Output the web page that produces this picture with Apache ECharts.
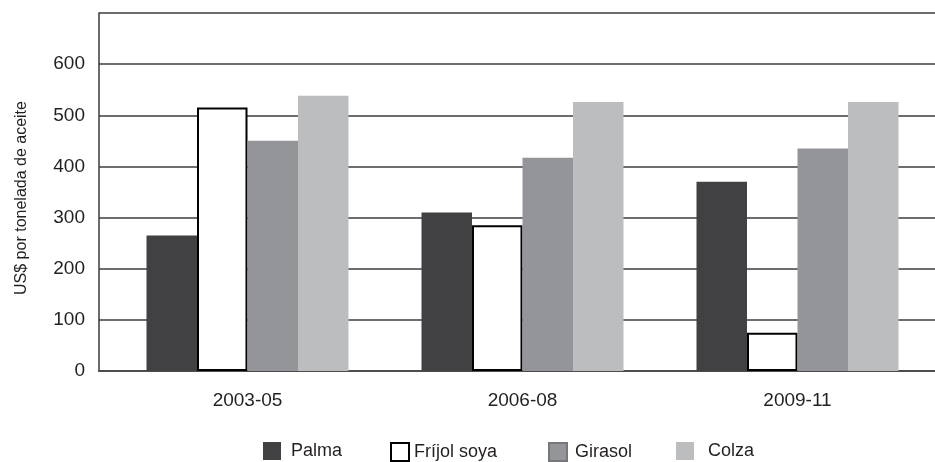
<!DOCTYPE html>
<html>
<head>
<meta charset="utf-8">
<script src="https://cdn.jsdelivr.net/npm/echarts@6/dist/echarts.min.js"></script>
<style>
  html, body { margin: 0; padding: 0; background: #fff; }
  #chart { width: 935px; height: 462px; }
</style>
</head>
<body>
<div id="chart"></div>
<script>
// Periodos y precios (US$ por tonelada de aceite)
const periods = ['2003-05', '2006-08', '2009-11'];
const palma = [265, 310, 370];
const frijolSoya = [515, 285, 75];
const girasol = [450, 417, 435];
const colza = [538, 526, 526];
const yTicks = [0, 100, 200, 300, 400, 500, 600, 700];

const FONT = '"Liberation Sans", Arial, sans-serif';
const TXT = '#231f20';

const chart = echarts.init(document.getElementById('chart'));

// una leyenda por serie para poder ubicar cada una como en el original
const legendItem = (name, left, padTop, padLeft, extra) => ({
  left, top: 442, padding: 0,
  itemWidth: 18, itemHeight: 18,
  icon: 'rect',
  data: [Object.assign({ name }, extra || {})],
  textStyle: { fontFamily: FONT, fontSize: 18, color: TXT, padding: [padTop, 0, 0, padLeft] },
});

chart.setOption({
  animation: false,
  legend: [
    legendItem('Palma', 263, 4, 5),
    legendItem('Fríjol soya', 390, 3, 0),
    legendItem('Girasol', 548, 3, 3, { itemStyle: { borderColor: '#76777a', borderWidth: 2 } }),
    legendItem('Colza', 676, 7, 9),
  ],
  grid: [
    { left: 99, right: 0, top: 13, bottom: 91 },   // ejes y líneas
    { left: 110, right: -2, top: 13, bottom: 91 }, // barras
  ],
  xAxis: [
    {
      gridIndex: 0, type: 'category', data: periods,
      axisLine: { lineStyle: { color: '#4d4d4d', width: 2 } },
      axisTick: { show: false }, axisLabel: { show: false },
    },
    {
      gridIndex: 1, type: 'category', data: periods,
      axisLine: { show: false }, axisTick: { show: false },
      axisLabel: { fontFamily: FONT, fontSize: 19, color: TXT, margin: 20 },
    },
  ],
  yAxis: [
    {
      gridIndex: 0, type: 'value',
      min: yTicks[0], max: yTicks[yTicks.length - 1], interval: 100,
      name: 'US$ por tonelada de aceite',
      nameLocation: 'middle', nameGap: 69,
      nameTextStyle: { fontFamily: FONT, fontSize: 16, color: TXT, padding: [0, 12, 0, 0] },
      axisLine: { show: true, lineStyle: { color: '#3a3a3a', width: 1.5 } },
      axisTick: { show: false },
      axisLabel: {
        fontFamily: FONT, fontSize: 19, color: TXT, margin: 14,
        formatter: (v) => (v === 700 ? '' : String(v)),
      },
      splitLine: { lineStyle: { color: '#3c3c3c', width: 1.5 } },
    },
    {
      gridIndex: 1, type: 'value',
      min: yTicks[0], max: yTicks[yTicks.length - 1], interval: 100,
      show: false, splitLine: { show: false },
    },
  ],
  series: [
    {
      name: 'Palma', type: 'bar', xAxisIndex: 1, yAxisIndex: 1,
      data: palma, barWidth: 50.5, barGap: '0%',
      itemStyle: { color: '#414143' },
    },
    {
      name: 'Fríjol soya', type: 'bar', xAxisIndex: 1, yAxisIndex: 1,
      data: frijolSoya, barWidth: 50.5, barGap: '0%',
      itemStyle: { color: '#ffffff', borderColor: '#000000', borderWidth: 2 },
    },
    {
      name: 'Girasol', type: 'bar', xAxisIndex: 1, yAxisIndex: 1,
      data: girasol, barWidth: 50.5, barGap: '0%',
      itemStyle: { color: '#939598' },
    },
    {
      name: 'Colza', type: 'bar', xAxisIndex: 1, yAxisIndex: 1,
      data: colza, barWidth: 50.5, barGap: '0%',
      itemStyle: { color: '#bcbdbf' },
    },
  ],
});
</script>
</body>
</html>
